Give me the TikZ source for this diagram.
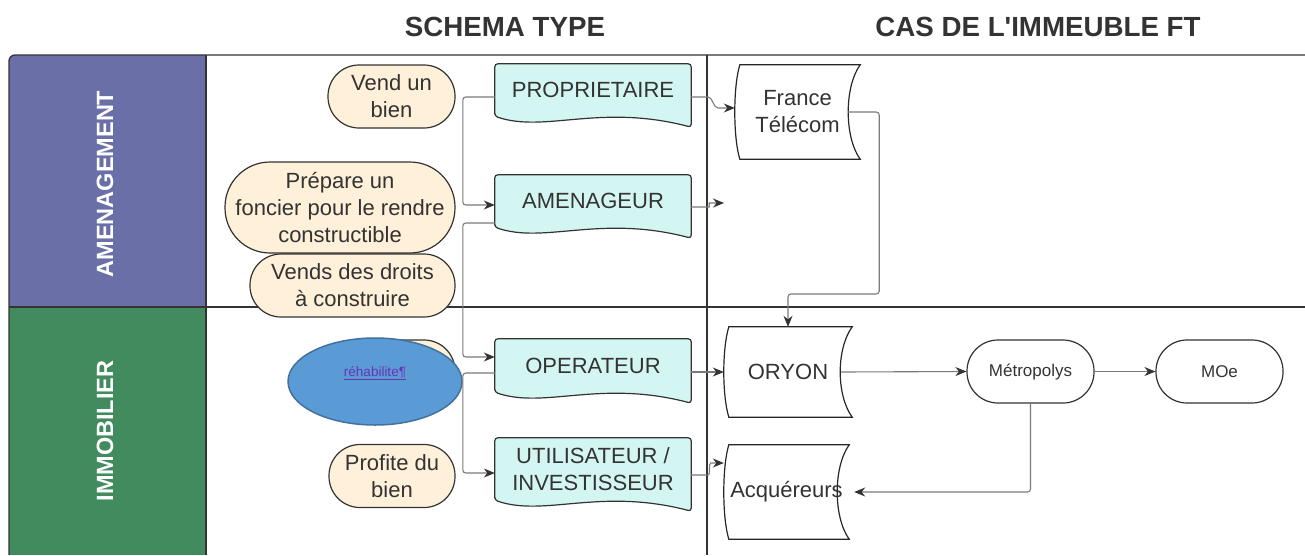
\documentclass[tikz,border=0pt]{standalone}
\usepackage{fontspec}
\setmainfont{Liberation Sans}
\usetikzlibrary{arrows.meta,calc,shapes.geometric,backgrounds,positioning}

\definecolor{violetbande}{HTML}{6B6FA8}
\definecolor{vertbande}{HTML}{418B5E}
\definecolor{creme}{HTML}{FEF0D9}
\definecolor{turquoise}{HTML}{D4F6F2}
\definecolor{trait}{HTML}{333333}
\definecolor{gristrait}{HTML}{7A7A7A}
\definecolor{bleuellipse}{HTML}{5B9BD5}
\definecolor{bleubord}{HTML}{41719C}
\definecolor{couleurlien}{HTML}{6A33B5}

\tikzset{
  titre/.style={text=trait, font=\bfseries\fontsize{27.7}{32}\selectfont},
  bande/.style={rotate=90, text=white, font=\bfseries\fontsize{23.5}{28}\selectfont},
  texte/.style={text=trait, font=\fontsize{22}{27}\selectfont, align=center, inner sep=0pt},
  bulle/.style={texte, draw=trait, fill=creme, line width=1.2pt, rounded corners=31pt, minimum height=63pt},
  doc/.style={texte, minimum width=196pt},
  etape/.style={texte, draw=trait, line width=1.2pt, rounded corners=31pt, minimum width=127pt, minimum height=63pt, font=\fontsize{17}{20}\selectfont},
  fleche/.style={draw=gristrait, line width=1.1pt, rounded corners=3pt, -{Stealth[length=11pt,width=9pt,color=trait]}}
}

% contour "document" (bas ondule) autour d'un noeud
\newcommand{\docforme}[1]{%
  \begin{scope}[on background layer]
  \draw[draw=trait, fill=turquoise, line width=1.2pt, rounded corners=3pt] (#1.south west) -- (#1.north west) -- (#1.north east) -- ([yshift=-11pt]#1.south east) .. controls ([xshift=-91pt,yshift=13pt]#1.south east) and ([xshift=50pt,yshift=-17pt]#1.south west) .. (#1.south west) -- cycle;
  \end{scope}}

% contour "donnees stockees" autour d'un noeud
\newcommand{\stockforme}[1]{%
  \begin{scope}[on background layer]
  \draw[draw=black!85, fill=white, line width=1.2pt] ([xshift=5pt]#1.north west) -- (#1.north east) .. controls ([xshift=-16pt,yshift=-22pt]#1.north east) and ([xshift=-16pt,yshift=22pt]#1.south east) .. (#1.south east) -- ([xshift=5pt]#1.south west) .. controls ([xshift=-1.7pt,yshift=22pt]#1.south west) and ([xshift=-1.7pt,yshift=-22pt]#1.north west) .. ([xshift=5pt]#1.north west) -- cycle;
  \end{scope}}

\begin{document}
\begin{tikzpicture}[x=1pt, y=-1pt]
\useasboundingbox (0,0) rectangle (1305,555);
%
% Titres
\node[titre] (schema) at (505,27) {SCHEMA TYPE};
\node[titre] (cas) at (1038,27) {CAS DE L\textquotesingle IMMEUBLE FT};
% Bandes
\fill[violetbande] (9,307) -- (9,61) arc[start angle=180, end angle=270, radius=6] -- (206,55) -- (206,307) -- cycle;
\fill[vertbande] (9,307) rectangle (206,555);
\draw[trait, line width=1.3pt] (9,555) -- (9,61) arc[start angle=180, end angle=270, radius=6] -- (1305,55);
\draw[trait, line width=1.3pt] (9,307) -- (1305,307);
\draw[trait, line width=1.3pt] (206,55) -- (206,555);
\draw[trait, line width=1.3pt] (707,55) -- (707,555);
\node[bande] (amenag) at (105,184) {AMENAGEMENT};
\node[bande] (immo) at (105,431) {IMMOBILIER};
% Bulles
\node[bulle, minimum width=127pt] (vend) at (391.5,96.5) {Vend un\\bien};
\node[bulle, minimum width=230pt, minimum height=91pt, rounded corners=45pt] (prep) at (340,207.5) {Prépare un\\foncier pour le rendre\\constructible};
\node[bulle, minimum width=205pt] (droits) at (352.5,285.5) {Vends des droits\\à construire};
\node[bulle, minimum width=125pt] (cache) at (392.5,371.5) {};
\node[ellipse, draw=bleubord, fill=bleuellipse, line width=1.5pt, minimum width=174pt, minimum height=87pt, inner sep=0pt, text depth=20pt, text=couleurlien, font=\fontsize{13.5}{15}\selectfont] (rehab) at (375,381.5) {\underline{réhabilite¶}};
\node[bulle, minimum width=126pt] (profite) at (392,476) {Profite du\\bien};
% Acteurs (schema type)
\node[doc, minimum height=52pt] (prop) at (593,90) {PROPRIETAIRE};
\docforme{prop}
\node[doc, minimum height=52pt] (amen) at (593,201) {AMENAGEUR};
\docforme{amen}
\node[doc, minimum height=53pt] (oper) at (593,365.5) {OPERATEUR};
\docforme{oper}
\node[doc, minimum height=62pt] (util) at (593,469) {UTILISATEUR /\\INVESTISSEUR};
\docforme{util}
% Acteurs (immeuble FT)
\node[texte, minimum width=125pt, minimum height=94pt] (ft) at (797.5,112) {France\\Télécom};
\stockforme{ft}
\node[texte, minimum width=128pt, minimum height=90pt] (oryon) at (788,372) {ORYON};
\stockforme{oryon}
\node[texte, minimum width=125pt, minimum height=94pt] (acq) at (786.5,492) {Acquéreurs};
\stockforme{acq}
\node[etape] (metro) at (1030.5,371.5) {Métropolys};
\node[etape] (moe) at (1219.5,371.5) {MOe};
\coordinate (vide) at (724,203);
% Fleches
\draw[fleche] ([yshift=-7pt]prop.west) -- ++(-32,0) |- ([yshift=-4pt]amen.west);
\draw[fleche] ([yshift=-22pt]amen.west) -- ++(-32,0) |- ([yshift=8.5pt]oper.west);
\draw[fleche] ([yshift=-7.5pt]oper.west) -- ++(-32,0) |- ([yshift=-4pt]util.west);
\draw[fleche] ([yshift=-7pt]prop.east) -- ++(14,0) to[out=0, in=180] ([xshift=-14pt,yshift=4pt]ft.west) -- ([yshift=4pt]ft.west);
\draw[fleche] ([yshift=-6pt]amen.east) -- ++(15,0) to[out=0, in=180] ++(6,-4) -- (vide);
\draw[fleche] (oper.east |- oryon.west) -- (oryon.west);
\draw[fleche] ([yshift=-6pt]util.east) -- ++(14,0) to[out=0, in=180] ([xshift=-10pt,yshift=29pt]acq.west) -- ([yshift=29pt]acq.west);
\draw[fleche] ([xshift=-12pt]ft.east) -- ++(31,0) -- ++(0,182) -| (oryon.north);
\draw[fleche] ([xshift=-11pt]oryon.east) -- (metro.west);
\draw[fleche] (metro.east) -- (moe.west);
\draw[fleche] (metro.south) |- ([xshift=5pt]acq.east);
\end{tikzpicture}
\end{document}
